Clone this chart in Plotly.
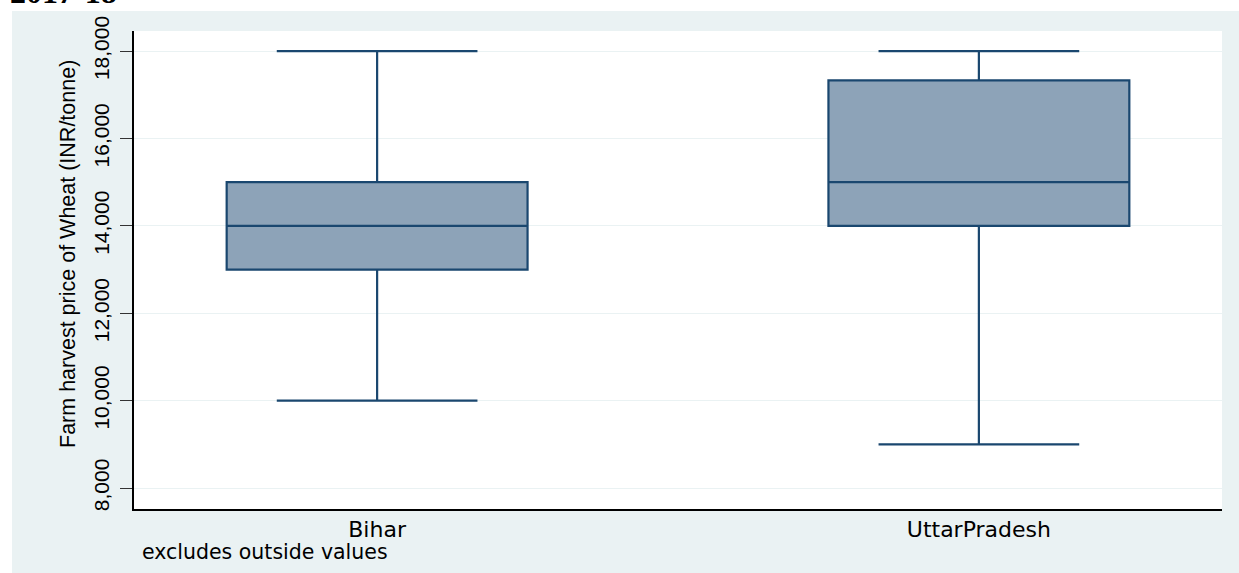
import plotly.graph_objects as go

states = ["Bihar", "UttarPradesh"]
q1 = [13000, 14000]
median = [14000, 15000]
q3 = [15000, 17330]
lower = [10000, 9000]
upper = [18000, 18000]
y_ticks = [8000, 10000, 12000, 14000, 16000, 18000]

W, H = 1239, 573
ML, MR, MT, MB = 134, W - 1222, 31, H - 509
PW, PH = 1222 - 134, 509 - 31


def px_x(px):
    return (px - ML) / PW


def px_y(py):
    return (509 - py) / PH


fig = go.Figure()
fig.add_trace(go.Box(
    x=states, q1=q1, median=median, q3=q3,
    lowerfence=lower, upperfence=upper,
    boxpoints=False, width=0.5, whiskerwidth=0.667,
    fillcolor="#8DA3B8", line=dict(color="#1A476F", width=2.2),
    showlegend=False,
))

BG = "#EAF2F3"
fig.update_layout(
    width=W, height=H,
    margin=dict(l=ML, r=MR, t=MT, b=MB, pad=0),
    paper_bgcolor=BG, plot_bgcolor="white",
    showlegend=False,
    xaxis=dict(
        range=[-0.404, 1.404], showline=True, linecolor="black", linewidth=1.5,
        ticks="", showgrid=False, zeroline=False, ticklabelstandoff=0,
        tickfont=dict(family="DejaVu Sans", size=22, color="black"),
    ),
    yaxis=dict(
        range=[7520, 18460], showline=True, linecolor="black", linewidth=1.5,
        ticks="outside", ticklen=12, tickcolor="#333333", tickwidth=1,
        tickvals=y_ticks, tickformat=",", tickangle=-90, ticklabelstandoff=3,
        showgrid=True, gridcolor=BG, gridwidth=1.2, zeroline=False,
        tickfont=dict(family="Liberation Sans Narrow, Arial Narrow, Liberation Sans",
                      size=21, color="black"),
    ),
)

# white strips at the top and left edges (outside the grey background panel)
fig.add_shape(type="rect", xref="paper", yref="paper",
              x0=-0.2, x1=1.1, y0=px_y(11), y1=1.2,
              fillcolor="white", line_width=0, layer="above")
fig.add_shape(type="rect", xref="paper", yref="paper",
              x0=-0.2, x1=px_x(12), y0=-0.3, y1=1.2,
              fillcolor="white", line_width=0, layer="above")

# y axis title
fig.add_annotation(text="Farm harvest price of Wheat (INR/tonne)",
                   xref="paper", yref="paper", x=px_x(68), y=px_y(254),
                   xanchor="center", yanchor="middle", textangle=-90,
                   showarrow=False,
                   font=dict(family="Liberation Sans, Arial", size=21.5, color="black"))

fig.add_annotation(text="<b>2017-18</b>", xref="paper", yref="paper",
                   x=px_x(8), xanchor="left", y=px_y(5),
                   yanchor="bottom", yshift=-7, showarrow=False,
                   font=dict(family="Liberation Serif", size=32, color="black"))

fig.add_annotation(text="excludes outside values", xref="paper", yref="paper",
                   x=px_x(140), xanchor="left", y=px_y(552),
                   yanchor="middle", showarrow=False,
                   font=dict(family="DejaVu Sans", size=20.5, color="black"))

fig.write_html("out.html")
